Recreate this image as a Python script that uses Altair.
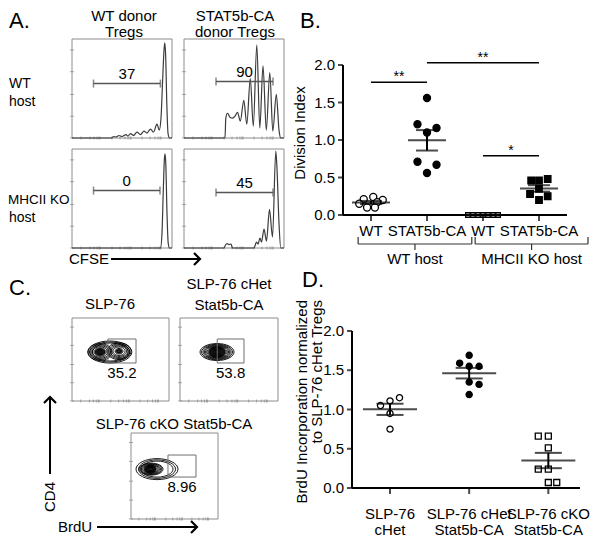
import altair as alt
import pandas as pd

OFF = 8            # page margin of the html body
W, H = 584, 530    # drawing area
FONT = "Liberation Sans"


def px(v):
    return v - OFF


ONE = pd.DataFrame({"k": [0]})

# ======================= DATA =======================
# ---- Panel A: CFSE histograms (x: % of CFSE axis, y: % of modal count)
hist_wt_wthost_x = [0, 39, 42, 44, 47, 50, 54, 56, 58.5, 61.5, 65, 68.5, 72, 75, 78.5, 81.5, 85, 87.2, 89, 90.5, 91.8, 92.7, 93.6, 94.8, 96, 97.5, 100]
hist_wt_wthost_y = [0, 0, 1.5, 1, 2.5, 1.5, 3.5, 2, 4.5, 2.5, 6, 3.5, 7, 5, 9, 6, 14, 8, 20, 55, 85, 96, 85, 35, 5, 0, 0]
hist_ca_wthost_x = [0, 41, 41.8, 43.5, 46, 48.5, 51, 53.5, 56.3, 59.8, 62.8, 66.3, 69.3, 72.8, 75.8, 79, 82.3, 85.8, 88.8, 92.3, 95, 96.8, 100]
hist_ca_wthost_y = [0, 0, 20, 25, 21, 20, 22, 26, 17, 38, 14, 60, 12, 94, 10, 73, 8, 66, 7, 44, 8, 0, 0]
hist_wt_kohost_x = [0, 88.5, 90, 91.2, 92.4, 93, 93.8, 95, 96.2, 97.5, 100]
hist_wt_kohost_y = [0, 0, 15, 55, 90, 95, 85, 35, 5, 0, 0]
hist_ca_kohost_x = [0, 40, 41.5, 43, 45, 47, 48.5, 70, 72.5, 74, 76, 77.5, 80, 82.5, 85.5, 88.5, 91.8, 93, 95, 96.8, 100]
hist_ca_kohost_y = [0, 0, 3, 4.5, 3.5, 4, 0, 0, 6, 4, 10, 6, 19, 7, 39, 11, 98, 80, 25, 0, 0]
hist_x = [hist_wt_wthost_x, hist_ca_wthost_x, hist_wt_kohost_x, hist_ca_kohost_x]
hist_y = [hist_wt_wthost_y, hist_ca_wthost_y, hist_wt_kohost_y, hist_ca_kohost_y]
a_gate_lo = [21.5, 32.0, 21.5, 32.0]
a_gate_hi = [88.4, 89.0, 88.0, 89.0]
a_gate_y = [55, 57, 58, 56]
a_pct = ["37", "90", "0", "45"]

# FACS axis minor ticks (% of axis)
facs_y_ticks = [0, 22, 44, 67, 89]
facs_x_ticks = [9, 18, 22, 25, 27, 28, 40, 48, 53, 56, 58, 59, 70, 78, 83, 86, 88, 89]

# ---- Panel B: division index
b_cat_labels = ["WT", "STAT5b-CA", "WT", "STAT5b-CA"]
b_marker = ["open circle", "filled circle", "open square", "filled square"]
b_wt_wthost = [0.24, 0.21, 0.20, 0.17, 0.15, 0.10, 0.10]
b_ca_wthost = [1.56, 1.21, 1.16, 1.10, 0.71, 0.67, 0.56]
b_wt_kohost = [0.0, 0.0, 0.0, 0.0, 0.0, 0.0, 0.0]
b_ca_kohost = [0.48, 0.46, 0.46, 0.35, 0.28, 0.25, 0.20]
b_vals = [b_wt_wthost, b_ca_wthost, b_wt_kohost, b_ca_kohost]
b_spread = [
    [0.04, -0.13, 0.21, 0.11, -0.21, -0.07, 0.07],
    [0.0, -0.17, 0.17, 0.0, -0.17, 0.17, 0.0],
    [-0.27, -0.18, -0.09, 0.0, 0.09, 0.18, 0.27],
    [0.155, -0.14, 0.0, 0.0, -0.16, 0.155, 0.0],
]
b_y_ticks = [0, 0.5, 1.0, 1.5, 2.0]
b_host_labels = ["WT host", "MHCII KO host"]
b_host_lo = [0.77, 2.86]
b_host_hi = [2.80, 4.875]
sig_from = [1, 2, 3]
sig_to = [2, 4, 4]
sig_y = [1.77, 2.03, 0.79]
sig_lab = ["**", "**", "*"]

# ---- Panel C: BrdU contour plots
c_pct = ["35.2", "53.8", "8.96"]
c_gate_x1 = [37.0, 38.0, 42.5]
c_gate_x2 = [66.0, 65.3, 74.7]
c_gate_y1 = [45.8, 45.8, 48.8]
c_gate_y2 = [74.7, 74.7, 74.4]
c_cx = [
    [39.0, 39.0, 39.5] + [28.9] * 8 + [48.5] * 7 + [28.9, 48.5],
    [37.8] * 12 + [37.8],
    [23.0] * 9 + [29.9] * 3 + [22.0],
]
c_cy = [
    [59] * 11 + [60] * 7 + [59, 60],
    [59] * 12 + [59],
    [58] * 12 + [58],
]
c_w = [
    [45.4, 41.2, 37.1, 24.7, 21.6, 18.5, 15.5, 12.4, 9.3, 6.2, 3.1, 24.7, 21.6, 18.5, 15.5, 12.4, 8.2, 4.1, 11.0, 7.0],
    [34.7, 31.6, 28.6, 26.0, 23.5, 21.0, 18.5, 16.0, 13.3, 10.2, 7.1, 4.0, 17.0],
    [27.6, 24.8, 22.0, 19.3, 16.5, 13.8, 11.0, 8.3, 5.5, 36.8, 42.5, 48.3, 14.0],
]
c_kind = [
    ["wide"] * 3 + ["lobe"] * 15 + ["core", "core"],
    ["wide"] * 12 + ["core"],
    ["wide"] * 12 + ["core"],
]

# ---- Panel D: BrdU incorporation
d_cat_labels = ["SLP-76\ncHet", "SLP-76 cHet\nStat5b-CA", "SLP-76 cKO\nStat5b-CA"]
d_marker = ["open circle", "filled circle", "open square"]
d_het = [1.15, 1.11, 1.05, 0.95, 0.75]
d_ca = [1.69, 1.59, 1.55, 1.55, 1.35, 1.32, 1.19]
d_ko = [0.66, 0.66, 0.51, 0.24, 0.24, 0.07, 0.07]
d_vals = [d_het, d_ca, d_ko]
d_spread = [
    [0.12, 0.0, -0.12, 0.0, 0.0],
    [0.0, -0.12, 0.0, 0.125, 0.0, 0.125, 0.0],
    [-0.127, 0.0, 0.0, -0.127, 0.0, 0.0, 0.106],
]
d_y_ticks = [0, 0.5, 1.0, 1.5, 2.0]

# ======================= LAYOUT (figure pixels) =======================
A_X = [(72, 172), (184, 284), (72, 172), (184, 284)]
A_Y = [(138, 39), (138, 39), (248, 149), (248, 149)]
C_X = [(72, 169), (180, 278), (131, 218)]
C_Y = [(401, 318), (401, 318), (519, 433)]

MARK_STYLE = {
    "open circle": ("circle", "white"),
    "filled circle": ("circle", "black"),
    "open square": ("square", "white"),
    "filled square": ("square", "black"),
}
LOBE = "M -1 0 A 1 0.7 0 1 1 1 0 A 1 0.7 0 1 1 -1 0 Z"
WIDE = "M -1 0 A 1 0.5 0 1 1 1 0 A 1 0.5 0 1 1 -1 0 Z"
CONTOUR_STYLE = {"lobe": (LOBE, False), "wide": (WIDE, False), "core": (LOBE, True)}


def box_scales(xr, yr):
    sx = alt.Scale(domain=[0, 100], range=[px(xr[0]), px(xr[1])], nice=False, zero=False)
    sy = alt.Scale(domain=[0, 100], range=[px(yr[0]), px(yr[1])], nice=False, zero=False)
    return sx, sy


def frame_layers(sx, sy):
    frame = alt.Chart(ONE).mark_rect(fillOpacity=0, stroke="#8c8c8c", strokeWidth=1).encode(
        x=alt.XDatum(0, scale=sx, axis=None), x2=alt.X2Datum(100),
        y=alt.YDatum(0, scale=sy, axis=None), y2=alt.Y2Datum(100))
    lt = alt.Chart(pd.DataFrame({"t": facs_y_ticks})).mark_tick(
        orient="horizontal", size=4, thickness=1, color="#888").encode(
        x=alt.XDatum(0, scale=sx, axis=None), y=alt.Y("t:Q", scale=sy, axis=None))
    bt = alt.Chart(pd.DataFrame({"t": facs_x_ticks})).mark_tick(
        orient="vertical", size=3, thickness=1, color="#888").encode(
        x=alt.X("t:Q", scale=sx, axis=None), y=alt.YDatum(0, scale=sy, axis=None))
    return [frame, lt, bt]


def hist_panel(i):
    sx, sy = box_scales(A_X[i], A_Y[i])
    parts = frame_layers(sx, sy)
    hdf = pd.DataFrame({"cfse": hist_x[i], "count": hist_y[i]})
    parts.append(alt.Chart(hdf).mark_line(interpolate="monotone", color="#3c3c3c", strokeWidth=1.2).encode(
        x=alt.X("cfse:Q", scale=sx, axis=None), y=alt.Y("count:Q", scale=sy, axis=None)))
    gdf = pd.DataFrame({"lo": [a_gate_lo[i]], "hi": [a_gate_hi[i]], "g": [a_gate_y[i]], "pct": [a_pct[i]]})
    parts.append(alt.Chart(gdf).mark_rule(color="#555", strokeWidth=1.5).encode(
        x=alt.X("lo:Q", scale=sx, axis=None), x2="hi:Q", y=alt.Y("g:Q", scale=sy, axis=None)))
    parts.append(alt.Chart(gdf).transform_fold(["lo", "hi"], as_=["end", "xe"]).mark_tick(
        orient="vertical", size=8, thickness=1.5, color="#555").encode(
        x=alt.X("xe:Q", scale=sx, axis=None), y=alt.Y("g:Q", scale=sy, axis=None)))
    parts.append(alt.Chart(gdf).transform_calculate(mid="(datum.lo + datum.hi) / 2").mark_text(
        fontSize=15, baseline="bottom", dy=-2, font=FONT, color="black").encode(
        x=alt.X("mid:Q", scale=sx, axis=None), y=alt.Y("g:Q", scale=sy, axis=None), text="pct:N"))
    return alt.layer(*parts)


def facs_panel(i):
    sx, sy = box_scales(C_X[i], C_Y[i])
    bw = C_X[i][1] - C_X[i][0]
    parts = frame_layers(sx, sy)
    cdf = pd.DataFrame({"cx": c_cx[i], "cy": c_cy[i], "w": c_w[i], "kind": c_kind[i]})
    for kind, (path, filled) in CONTOUR_STYLE.items():
        if kind not in c_kind[i]:
            continue
        mk = dict(shape=path, filled=filled, color="black", opacity=1)
        if filled:
            mk["fillOpacity"] = 0.85
        else:
            mk["strokeWidth"] = 0.9
        parts.append(alt.Chart(cdf).transform_filter(alt.datum.kind == kind).mark_point(**mk).encode(
            x=alt.X("cx:Q", scale=sx, axis=None), y=alt.Y("cy:Q", scale=sy, axis=None),
            size=alt.Size("w:Q", scale=alt.Scale(type="pow", exponent=2, domain=[0, 100], range=[0, bw * bw]),
                          legend=None)))
    gdf = pd.DataFrame({"x1": [c_gate_x1[i]], "x2": [c_gate_x2[i]], "y1": [c_gate_y1[i]],
                        "y2": [c_gate_y2[i]], "pct": [c_pct[i]]})
    parts.append(alt.Chart(gdf).mark_rect(fillOpacity=0, stroke="#707070", strokeWidth=1).encode(
        x=alt.X("x1:Q", scale=sx, axis=None), x2="x2:Q", y=alt.Y("y1:Q", scale=sy, axis=None), y2="y2:Q"))
    parts.append(alt.Chart(gdf).transform_calculate(mx="(datum.x1 + datum.x2) / 2", my="datum.y1 - 12").mark_text(
        fontSize=15, font=FONT, color="black").encode(
        x=alt.X("mx:Q", scale=sx, axis=None), y=alt.Y("my:Q", scale=sy, axis=None), text="pct:N"))
    return alt.layer(*parts)


def scatter_parts(df, markers, sizes, sx, sy, mean_w, cap_w):
    parts = []
    stats = alt.Chart(df).transform_aggregate(
        m="mean(val)", se="stderr(val)", groupby=["pos"]).transform_calculate(
        lo="datum.m - datum.se", hi="datum.m + datum.se")
    for gi, m in enumerate(markers):
        shape, fill = MARK_STYLE[m]
        parts.append(alt.Chart(df).transform_filter(alt.datum.marker == m).transform_calculate(
            xp="datum.pos + datum.spread").mark_point(
            shape=shape, filled=True, fill=fill, stroke="black", strokeWidth=1.3, size=sizes[gi], opacity=1).encode(
            x=alt.X("xp:Q", scale=sx, axis=None), y=alt.Y("val:Q", scale=sy, axis=None)))
    ex = alt.X("pos:Q", scale=sx, axis=None)
    parts.append(stats.mark_tick(orient="horizontal", size=mean_w, thickness=2, color="black").encode(
        x=ex, y=alt.Y("m:Q", scale=sy, axis=None)))
    parts.append(stats.mark_rule(color="black", strokeWidth=2).encode(
        x=ex, y=alt.Y("lo:Q", scale=sy, axis=None), y2="hi:Q"))
    parts.append(stats.transform_fold(["lo", "hi"], as_=["end", "yv"]).mark_tick(
        orient="horizontal", size=cap_w, thickness=2, color="black").encode(
        x=ex, y=alt.Y("yv:Q", scale=sy, axis=None)))
    return parts


def drawn_axes(sx, sy, xlo, xhi, ylo, yhi, yticks, xpos, xlabels):
    """Axis lines, ticks and tick labels drawn through the panel's own scales."""
    parts = []
    parts.append(alt.Chart(ONE).mark_rule(color="black", strokeWidth=2).encode(
        x=alt.XDatum(xlo, scale=sx, axis=None), y=alt.YDatum(ylo, scale=sy, axis=None), y2=alt.Y2Datum(yhi)))
    parts.append(alt.Chart(ONE).mark_rule(color="black", strokeWidth=2).encode(
        x=alt.XDatum(xlo, scale=sx, axis=None), x2=alt.X2Datum(xhi), y=alt.YDatum(ylo, scale=sy, axis=None)))
    ydf = pd.DataFrame({"v": yticks})
    parts.append(alt.Chart(ydf).mark_tick(orient="horizontal", size=5, thickness=2, color="black",
                                          xOffset=-2.5).encode(
        x=alt.XDatum(xlo, scale=sx, axis=None), y=alt.Y("v:Q", scale=sy, axis=None)))
    parts.append(alt.Chart(ydf).mark_text(align="right", baseline="middle", dx=-8, fontSize=15,
                                          font=FONT, color="black").encode(
        x=alt.XDatum(xlo, scale=sx, axis=None), y=alt.Y("v:Q", scale=sy, axis=None),
        text=alt.Text("v:Q", format=".1f")))
    xdf = pd.DataFrame({"pos": xpos, "lab": xlabels})
    parts.append(alt.Chart(xdf).mark_tick(orient="vertical", size=6, thickness=2, color="black",
                                          yOffset=3).encode(
        x=alt.X("pos:Q", scale=sx, axis=None), y=alt.YDatum(ylo, scale=sy, axis=None)))
    return parts, xdf


# ---------------- Panel B ----------------
b_rows = []
for gi in range(4):
    for v, s in zip(b_vals[gi], b_spread[gi]):
        b_rows.append({"pos": gi + 1, "val": v, "spread": s, "marker": b_marker[gi]})
dfB = pd.DataFrame(b_rows)
bx = alt.Scale(domain=[0.5, 4.5], range=[px(343), px(567)], nice=False, zero=False)
by = alt.Scale(domain=[0, 2], range=[px(215), px(65)], nice=False, zero=False)
b_parts = scatter_parts(dfB, b_marker, [50, 50, 20, 42], bx, by, 38, 22)
ax_parts, bxdf = drawn_axes(bx, by, 0.5, 4.5, 0, 2, b_y_ticks, [1, 2, 3, 4], b_cat_labels)
b_parts += ax_parts
b_parts.append(alt.Chart(bxdf).mark_text(baseline="top", dy=9, fontSize=15, font=FONT, color="black").encode(
    x=alt.X("pos:Q", scale=bx, axis=None), y=alt.YDatum(0, scale=by, axis=None), text="lab:N"))

sdf = pd.DataFrame({"a": sig_from, "b": sig_to, "y": sig_y, "lab": sig_lab})
b_parts.append(alt.Chart(sdf).mark_rule(color="black", strokeWidth=1.5).encode(
    x=alt.X("a:Q", scale=bx, axis=None), x2="b:Q", y=alt.Y("y:Q", scale=by, axis=None)))
b_parts.append(alt.Chart(sdf).transform_calculate(mid="(datum.a + datum.b) / 2").mark_text(
    fontSize=14, baseline="alphabetic", dy=-1, font=FONT, color="black").encode(
    x=alt.X("mid:Q", scale=bx, axis=None), y=alt.Y("y:Q", scale=by, axis=None), text="lab:N"))

hdf = pd.DataFrame({"lo": b_host_lo, "hi": b_host_hi, "lab": b_host_labels})
b_parts.append(alt.Chart(hdf).mark_rule(color="#333", strokeWidth=1.2).encode(
    x=alt.X("lo:Q", scale=bx, axis=None), x2="hi:Q", y=alt.value(px(244))))
b_parts.append(alt.Chart(hdf).transform_fold(["lo", "hi"], as_=["end", "e"]).mark_rule(
    color="#333", strokeWidth=1.2).encode(
    x=alt.X("e:Q", scale=bx, axis=None), y=alt.value(px(237)), y2=alt.value(px(244))))
b_parts.append(alt.Chart(hdf).transform_calculate(mid="(datum.lo + datum.hi) / 2").mark_rule(
    color="#333", strokeWidth=1.2).encode(
    x=alt.X("mid:Q", scale=bx, axis=None), y=alt.value(px(244)), y2=alt.value(px(250))))
b_parts.append(alt.Chart(hdf).transform_calculate(mid="(datum.lo + datum.hi) / 2").mark_text(
    fontSize=15, font=FONT, color="black").encode(
    x=alt.X("mid:Q", scale=bx, axis=None), y=alt.value(px(259)), text="lab:N"))
panel_b = alt.layer(*b_parts)

# ---------------- Panel D ----------------
d_rows = []
for gi in range(3):
    for v, s in zip(d_vals[gi], d_spread[gi]):
        d_rows.append({"pos": gi + 1, "val": v, "spread": s, "marker": d_marker[gi]})
dfD = pd.DataFrame(d_rows)
dx = alt.Scale(domain=[0.52, 3.4], range=[px(352), px(580)], nice=False, zero=False)
dy = alt.Scale(domain=[0, 2], range=[px(488), px(331)], nice=False, zero=False)
d_parts = scatter_parts(dfD, d_marker, [38, 38, 36], dx, dy, 54, 27)
ax_parts, dxdf = drawn_axes(dx, dy, 0.52, 3.4, 0, 2, d_y_ticks, [1, 2, 3], d_cat_labels)
d_parts += ax_parts
d_parts.append(alt.Chart(dxdf).mark_text(
    fontSize=15, font=FONT, color="black", baseline="top", lineBreak="\n", lineHeight=16, dy=19).encode(
    x=alt.X("pos:Q", scale=dx, axis=None), y=alt.YDatum(0, scale=dy, axis=None), text="lab:N"))
panel_d = alt.layer(*d_parts)


# ---------------- free annotations ----------------
def note(t, x, y, size=15, align="center", baseline="middle", angle=0, lh=16):
    kw = dict(fontSize=size, align=align, baseline=baseline, font=FONT, color="black")
    if angle:
        kw["angle"] = angle
    if "\n" in t:
        kw["lineBreak"] = "\n"
        kw["lineHeight"] = lh
    return alt.Chart(pd.DataFrame({"t": [t]})).mark_text(**kw).encode(
        text="t:N", x=alt.value(px(x)), y=alt.value(px(y)))


def hline(x1, x2, y, w=2):
    return alt.Chart(ONE).mark_rule(strokeWidth=w, color="black").encode(
        x=alt.value(px(x1)), x2=alt.value(px(x2)), y=alt.value(px(y)))


def vline(x, y1, y2, w=2):
    return alt.Chart(ONE).mark_rule(strokeWidth=w, color="black").encode(
        x=alt.value(px(x)), y=alt.value(px(y1)), y2=alt.value(px(y2)))


def head(x, y, path, size=144):
    return alt.Chart(ONE).mark_point(shape=path, size=size, filled=False, strokeWidth=2.2,
                                     color="black", opacity=1).encode(
        x=alt.value(px(x)), y=alt.value(px(y)))


RIGHT = "M -1 -1 L 0 0 L -1 1"
UP = "M -1 1 L 0 0 L 1 1"

notes = [
    note("A.", 9, 21, size=22, align="left"),
    note("WT donor", 124, 16), note("Tregs", 124, 32),
    note("STAT5b-CA", 235, 16), note("donor Tregs", 235, 32),
    note("WT", 9, 84, size=14, align="left"), note("host", 9, 102, size=14, align="left"),
    note("MHCII KO", 8, 200, size=13.5, align="left"), note("host", 9, 218, size=14, align="left"),
    note("CFSE", 69, 259, align="left"), hline(111, 199, 259), head(200, 259, RIGHT),
    note("B.", 300, 21, size=22, align="left"),
    note("Division Index", 300, 133, angle=270),
    note("C.", 9, 288, size=22, align="left"),
    note("SLP-76", 110, 304),
    note("SLP-76 cHet", 229, 284), note("Stat5b-CA", 229, 305),
    note("SLP-76 cKO Stat5b-CA", 174, 424),
    note("CD4", 50, 497, angle=270), vline(50, 474, 398), head(50, 397, UP),
    note("BrdU", 58, 527, align="left"), hline(97, 196, 527), head(197, 527, RIGHT),
    note("D.", 302, 280, size=22, align="left"),
    note("BrdU Incorporation  normalized\nto SLP-76 cHet Tregs", 302, 300, angle=270, align="right", lh=15),
]

layers = [hist_panel(i) for i in range(4)] + [panel_b] + [facs_panel(i) for i in range(3)] + [panel_d] + notes

chart = alt.layer(*layers).resolve_scale(
    x="independent", y="independent", size="independent"
).properties(
    width=W, height=H, padding=0, autosize=alt.AutoSizeParams(type="none")
).configure(font=FONT).configure_view(stroke=None).configure_axis(grid=False)

chart.save("out.html", embed_options={"renderer": "svg", "actions": False})
